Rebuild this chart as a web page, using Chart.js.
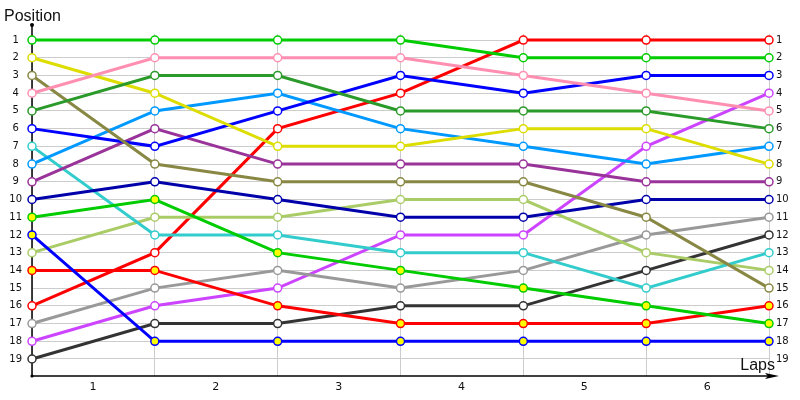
<!DOCTYPE html>
<html>
<head>
<meta charset="utf-8">
<script src="https://cdn.jsdelivr.net/npm/chart.js@4/dist/chart.umd.min.js"></script>
<style>
  html, body { margin: 0; padding: 0; background: #fff; }
  #wrap { width: 800px; height: 400px; position: relative; }
</style>
</head>
<body>
<div id="wrap"><canvas id="c"></canvas></div>
<script>
// ---- data ----
const laps = [0, 1, 2, 3, 4, 5, 6];
const lapLabels = ['1', '2', '3', '4', '5', '6'];
const positionTicks = [1,2,3,4,5,6,7,8,9,10,11,12,13,14,15,16,17,18,19];
const yAxisTitle = 'Position';
const xAxisTitle = 'Laps';

const greenA   = [1, 1, 1, 1, 2, 2, 2];
const pink     = [4, 2, 2, 2, 3, 4, 5];
const darkGreen= [5, 3, 3, 5, 5, 5, 6];
const yellow   = [2, 4, 7, 7, 6, 6, 8];
const olive    = [3, 8, 9, 9, 9, 11, 15];
const blue     = [6, 7, 5, 3, 4, 3, 3];
const skyBlue  = [8, 5, 4, 6, 7, 8, 7];
const purple   = [9, 6, 8, 8, 8, 9, 9];
const navy     = [10, 9, 10, 11, 11, 10, 10];
const greenB   = [11, 10, 13, 14, 15, 16, 17];
const blueB    = [12, 18, 18, 18, 18, 18, 18];
const teal     = [7, 12, 12, 13, 13, 15, 13];
const lime     = [13, 11, 11, 10, 10, 13, 14];
const redB     = [14, 14, 16, 17, 17, 17, 16];
const red      = [16, 13, 6, 4, 1, 1, 1];
const gray     = [17, 15, 14, 15, 14, 12, 11];
const violet   = [18, 16, 15, 12, 12, 7, 4];
const charcoal = [19, 17, 17, 16, 16, 14, 12];

const seriesList = [
  { name: 'greenA', values: greenA, color: '#00cc00', fill: '#ffffff' },
  { name: 'pink', values: pink, color: '#ff8fb0', fill: '#ffffff' },
  { name: 'darkGreen', values: darkGreen, color: '#2a9a2a', fill: '#ffffff' },
  { name: 'yellow', values: yellow, color: '#dddd00', fill: '#ffffff' },
  { name: 'olive', values: olive, color: '#888844', fill: '#ffffff' },
  { name: 'blue', values: blue, color: '#0000ff', fill: '#ffffff' },
  { name: 'skyBlue', values: skyBlue, color: '#0099ff', fill: '#ffffff' },
  { name: 'purple', values: purple, color: '#993399', fill: '#ffffff' },
  { name: 'navy', values: navy, color: '#0000aa', fill: '#ffffff' },
  { name: 'greenB', values: greenB, color: '#00cc00', fill: '#ffff00' },
  { name: 'blueB', values: blueB, color: '#0000ff', fill: '#ffff00' },
  { name: 'teal', values: teal, color: '#33cccc', fill: '#ffffff' },
  { name: 'lime', values: lime, color: '#aacc66', fill: '#ffffff' },
  { name: 'redB', values: redB, color: '#ff0000', fill: '#ffff00' },
  { name: 'red', values: red, color: '#ff0000', fill: '#ffffff' },
  { name: 'gray', values: gray, color: '#999999', fill: '#ffffff' },
  { name: 'violet', values: violet, color: '#cc44ff', fill: '#ffffff' },
  { name: 'charcoal', values: charcoal, color: '#333333', fill: '#ffffff' }
];

const datasets = seriesList.map(s => ({
  label: s.name,
  data: laps.map((x, i) => ({ x: x, y: s.values[i] })),
  borderColor: s.color,
  backgroundColor: s.fill,
  pointBackgroundColor: s.fill,
  pointBorderColor: s.color,
  pointRadius: 4,
  pointBorderWidth: 1.5,
  borderWidth: 3,
  tension: 0,
  clip: false
}));

const axesPlugin = {
  id: 'axesPlugin',
  beforeDatasetsDraw(chart) {
    const ctx = chart.ctx;
    const a = chart.chartArea;
    ctx.save();
    ctx.strokeStyle = '#000';
    ctx.fillStyle = '#000';
    ctx.lineWidth = 1.5;
    // left axis
    ctx.beginPath();
    ctx.moveTo(a.left, a.top - 9);
    ctx.lineTo(a.left, a.bottom);
    ctx.stroke();
    ctx.beginPath();
    ctx.arc(a.left, a.top - 9, 2, 0, Math.PI * 2);
    ctx.fill();
    ctx.beginPath();
    ctx.arc(a.left, a.bottom, 1.6, 0, Math.PI * 2);
    ctx.fill();
    // bottom axis
    ctx.beginPath();
    ctx.moveTo(a.left, a.bottom);
    ctx.lineTo(a.right + 6, a.bottom);
    ctx.stroke();
    ctx.beginPath();
    ctx.moveTo(a.right + 10, a.bottom);
    ctx.lineTo(a.right - 4, a.bottom - 3);
    ctx.lineTo(a.right - 1, a.bottom);
    ctx.lineTo(a.right - 4, a.bottom + 3);
    ctx.closePath();
    ctx.fill();
    ctx.restore();
  },
  afterDraw(chart) {
    const ctx = chart.ctx;
    const a = chart.chartArea;
    ctx.save();
    ctx.fillStyle = '#111';
    ctx.font = '16px "Liberation Sans", Arial, sans-serif';
    ctx.textBaseline = 'alphabetic';
    ctx.textAlign = 'left';
    ctx.fillText(yAxisTitle, 4, 21);
    ctx.textAlign = 'right';
    ctx.fillText(xAxisTitle, a.right + 6, a.bottom - 6);
    ctx.restore();
  }
};

new Chart(document.getElementById('c'), {
  type: 'line',
  data: { datasets: datasets },
  plugins: [axesPlugin],
  options: {
    responsive: true,
    maintainAspectRatio: false,
    animation: false,
    layout: { padding: { top: 34, left: 0, right: 0, bottom: 0 } },
    plugins: { legend: { display: false }, tooltip: { enabled: false }, title: { display: false } },
    scales: {
      x: {
        type: 'linear',
        min: 0, max: 6,
        afterFit(scale) { scale.height = 24; },
        border: { display: false },
        grid: { color: '#cccccc', lineWidth: 1, drawTicks: false },
        ticks: {
          stepSize: 1,
          padding: 5,
          labelOffset: 61,
          maxRotation: 0,
          autoSkip: false,
          color: '#111',
          font: { family: '"DejaVu Sans", sans-serif', size: 11 },
          callback: (v) => (v >= 0 && v < lapLabels.length) ? lapLabels[v] : ''
        }
      },
      y: {
        type: 'linear',
        position: 'left',
        reverse: true,
        min: 0.66, max: 19.96,
        afterFit(scale) { scale.width = 32; },
        afterBuildTicks(scale) { scale.ticks = positionTicks.map(v => ({ value: v })); },
        border: { display: false },
        grid: { color: '#cccccc', lineWidth: 1, drawTicks: false },
        ticks: {
          padding: 10,
          crossAlign: 'center',
          color: '#111',
          font: { family: '"DejaVu Sans", sans-serif', size: 10 },
          callback: (v) => String(v)
        }
      },
      y2: {
        type: 'linear',
        position: 'right',
        reverse: true,
        min: 0.66, max: 19.96,
        afterFit(scale) { scale.width = 31; },
        afterBuildTicks(scale) { scale.ticks = positionTicks.map(v => ({ value: v })); },
        border: { display: false },
        grid: { display: false, drawTicks: false },
        ticks: {
          padding: 7,
          color: '#111',
          font: { family: '"DejaVu Sans", sans-serif', size: 10 },
          callback: (v) => String(v)
        }
      }
    }
  }
});
</script>
</body>
</html>
